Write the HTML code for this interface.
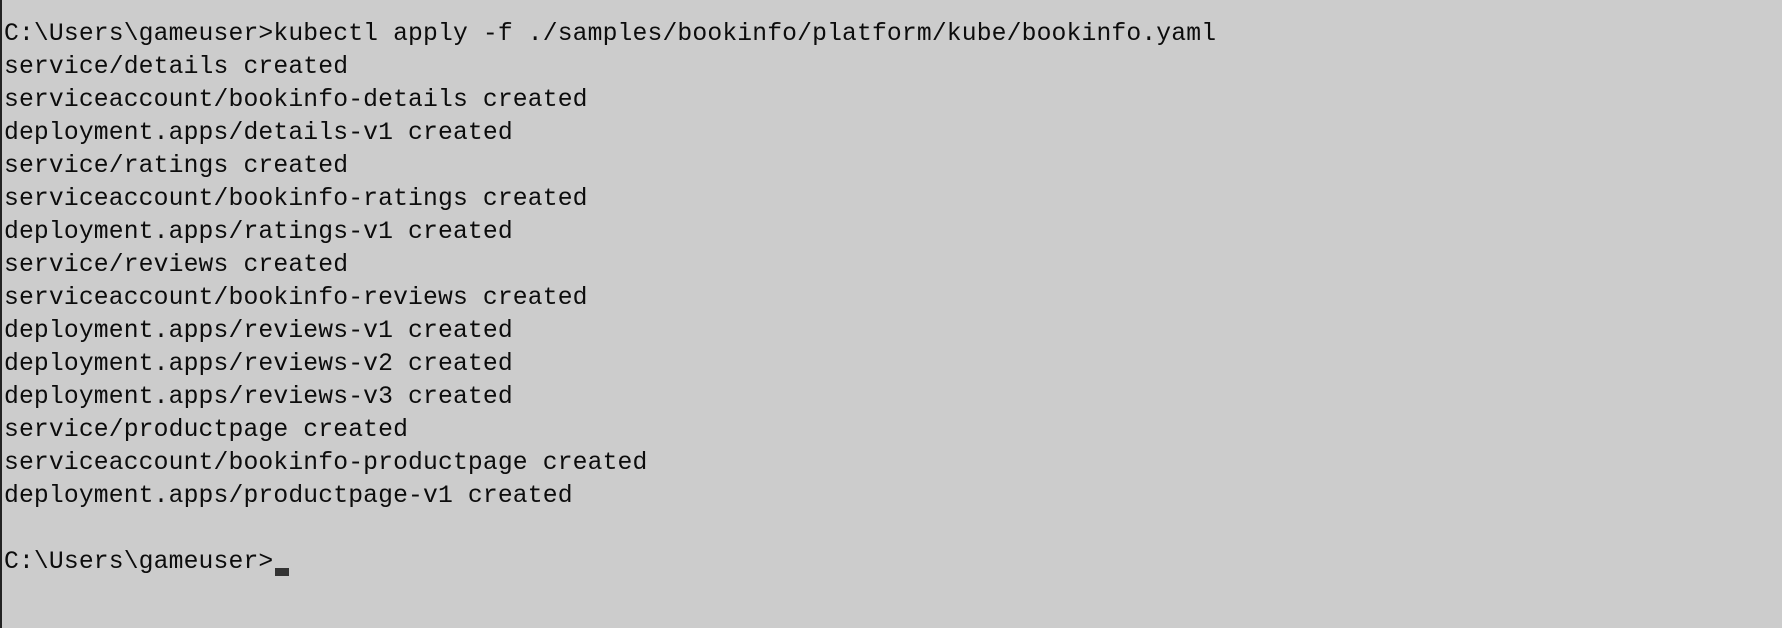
<!DOCTYPE html>
<html><head><meta charset="utf-8"><style>
html,body{margin:0;padding:0;}
body{width:1782px;height:628px;background:#cccccc;position:relative;overflow:hidden;border-left:2px solid #222;box-sizing:border-box;}
pre{position:absolute;left:2px;top:18px;margin:0;font-family:"Liberation Mono",monospace;font-size:24.7px;line-height:33px;color:#0c0c0c;letter-spacing:0.15px;}
.cur{position:absolute;left:273px;top:568px;width:14px;height:8px;background:#333;}
</style></head><body>
<pre>C:\Users\gameuser>kubectl apply -f ./samples/bookinfo/platform/kube/bookinfo.yaml
service/details created
serviceaccount/bookinfo-details created
deployment.apps/details-v1 created
service/ratings created
serviceaccount/bookinfo-ratings created
deployment.apps/ratings-v1 created
service/reviews created
serviceaccount/bookinfo-reviews created
deployment.apps/reviews-v1 created
deployment.apps/reviews-v2 created
deployment.apps/reviews-v3 created
service/productpage created
serviceaccount/bookinfo-productpage created
deployment.apps/productpage-v1 created

C:\Users\gameuser></pre>
<div class="cur"></div>
</body></html>
